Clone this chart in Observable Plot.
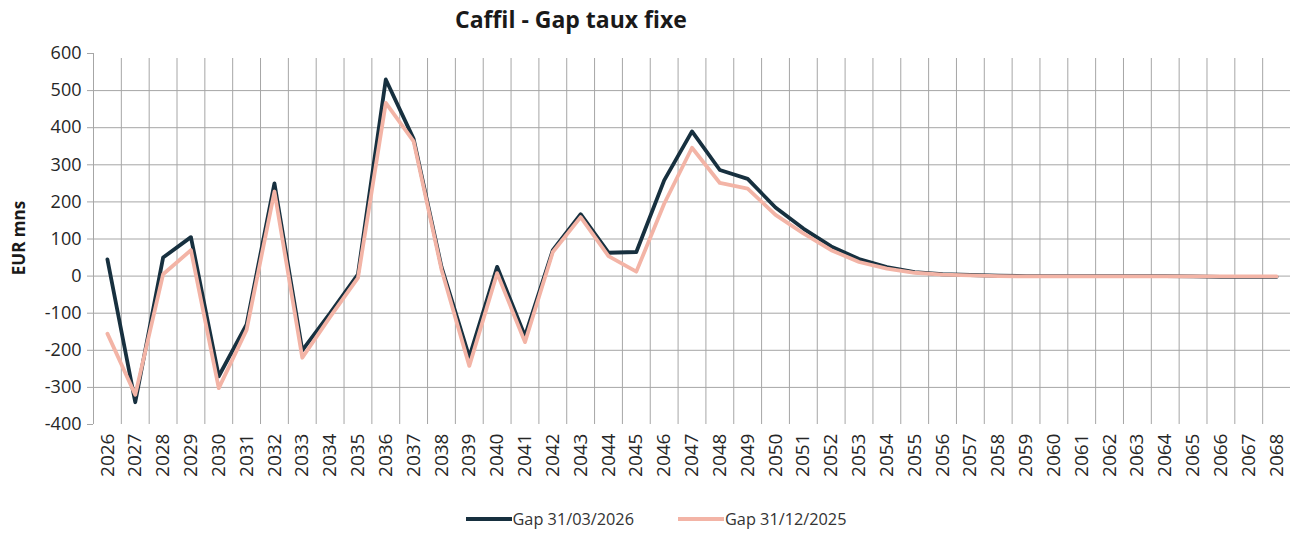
<!DOCTYPE html>
<html>
<head>
<meta charset="utf-8">
<script src="https://cdn.jsdelivr.net/npm/d3@7"></script>
<script src="https://cdn.jsdelivr.net/npm/@observablehq/plot@0.6"></script>
<style>
  body { margin: 0; background: #fff; font-family: "Open Sans", sans-serif; }
  #wrap { position: relative; width: 1294px; height: 533px; overflow: hidden; }
  #title { position: absolute; top: 3px; left: 0; width: 1142px; text-align: center;
           font-weight: 700; font-size: 23px; color: #1a1a1a; }
  #chart { position: absolute; top: 0; left: 0; }
  #ytitle { position: absolute; left: 18px; top: 238px; transform: translate(-50%, -50%) rotate(-90deg);
            font-weight: 700; font-size: 17px; color: #1a1a1a; white-space: nowrap; }
  #legend { position: absolute; top: 508px; left: 0; width: 1294px; display: flex; justify-content: center;
            gap: 0; font-size: 16.3px; color: #333; padding-left: 18px; box-sizing: border-box; }
  .item { display: flex; align-items: center; margin: 0 22px; }
  .item svg { margin-right: 1px; }
</style>
</head>
<body>
<div id="wrap">
  <div id="chart"></div>
  <div id="title">Caffil - Gap taux fixe</div>
  <div id="ytitle">EUR mns</div>
  <div id="legend"></div>
</div>
<script>
const years = ["2026","2027","2028","2029","2030","2031","2032","2033","2034","2035",
  "2036","2037","2038","2039","2040","2041","2042","2043","2044","2045",
  "2046","2047","2048","2049","2050","2051","2052","2053","2054","2055",
  "2056","2057","2058","2059","2060","2061","2062","2063","2064","2065",
  "2066","2067","2068"];
const gapMar2026 = [45,-340,50,105,-270,-130,250,-200,-100,5,
  530,370,25,-218,25,-162,70,167,63,65,
  258,390,286,262,185,128,80,46,24,11,
  5,3,1,0,0,0,0,0,0,-1,
  -2,-2,-2];
const gapDec2025 = [-155,-320,5,70,-302,-145,228,-220,-110,-5,
  467,363,18,-242,8,-178,65,159,54,12,
  195,346,251,236,165,115,70,38,20,9,
  4,2,0,-1,-1,-1,-1,-1,-1,-1,
  -1,-1,-1];
const seriesNames = ["Gap 31/03/2026", "Gap 31/12/2025"];
const seriesColors = ["#17303f", "#f3b4a6"];
const yTicks = [-400,-300,-200,-100,0,100,200,300,400,500,600];
const yGrid = [-300,-200,-100,0,100,200,300,400,500];

const W = 1294, H = 500, ML = 93, MR = 4, MT = 53, MB = 76;
const step = (W - ML - MR) / years.length;
const grid = "#a6a6a6";

const rows = [];
years.forEach((yr, i) => {
  rows.push({year: yr, value: gapMar2026[i], series: seriesNames[0]});
  rows.push({year: yr, value: gapDec2025[i], series: seriesNames[1]});
});

const chart = Plot.plot({
  width: W, height: H,
  marginLeft: ML, marginRight: MR, marginTop: MT, marginBottom: MB,
  style: {fontFamily: "Open Sans, sans-serif", color: "#262626", background: "transparent"},
  x: {type: "point", domain: years, padding: 0.5, label: null},
  y: {domain: [-400, 600], label: null},
  color: {domain: seriesNames, range: seriesColors},
  marks: [
    Plot.ruleY(yGrid, {stroke: grid, strokeWidth: 1}),
    Plot.ruleX(years.slice(1), {x: d => d, dx: -step / 2, y1: -400, y2: 600, insetBottom: -5, stroke: grid, strokeWidth: 1}),
    Plot.ruleX([years[0]], {x: d => d, dx: -step / 2, y1: -400, y2: 600, stroke: grid, strokeWidth: 1}),
    Plot.axisY({ticks: yTicks, tickFormat: d => String(d), tickSize: 6, tickPadding: 6, fontSize: 18, stroke: grid}),
    Plot.axisX({tickRotate: -90, tickSize: 0, tickPadding: 9, fontSize: 19}),
    Plot.line(rows.filter(d => d.series === seriesNames[0]), {x: "year", y: "value", stroke: "series", strokeWidth: 3.8, strokeLinejoin: "round"}),
    Plot.line(rows.filter(d => d.series === seriesNames[1]), {x: "year", y: "value", stroke: "series", strokeWidth: 3.8, strokeLinejoin: "round"})
  ]
});
document.getElementById("chart").appendChild(chart);

const legend = document.getElementById("legend");
seriesNames.forEach((name, i) => {
  const item = document.createElement("div");
  item.className = "item";
  item.innerHTML = `<svg width="46" height="10"><line x1="0" y1="5" x2="46" y2="5" stroke="${seriesColors[i]}" stroke-width="3.8"/></svg><span>${name}</span>`;
  legend.appendChild(item);
});
</script>
</body>
</html>
